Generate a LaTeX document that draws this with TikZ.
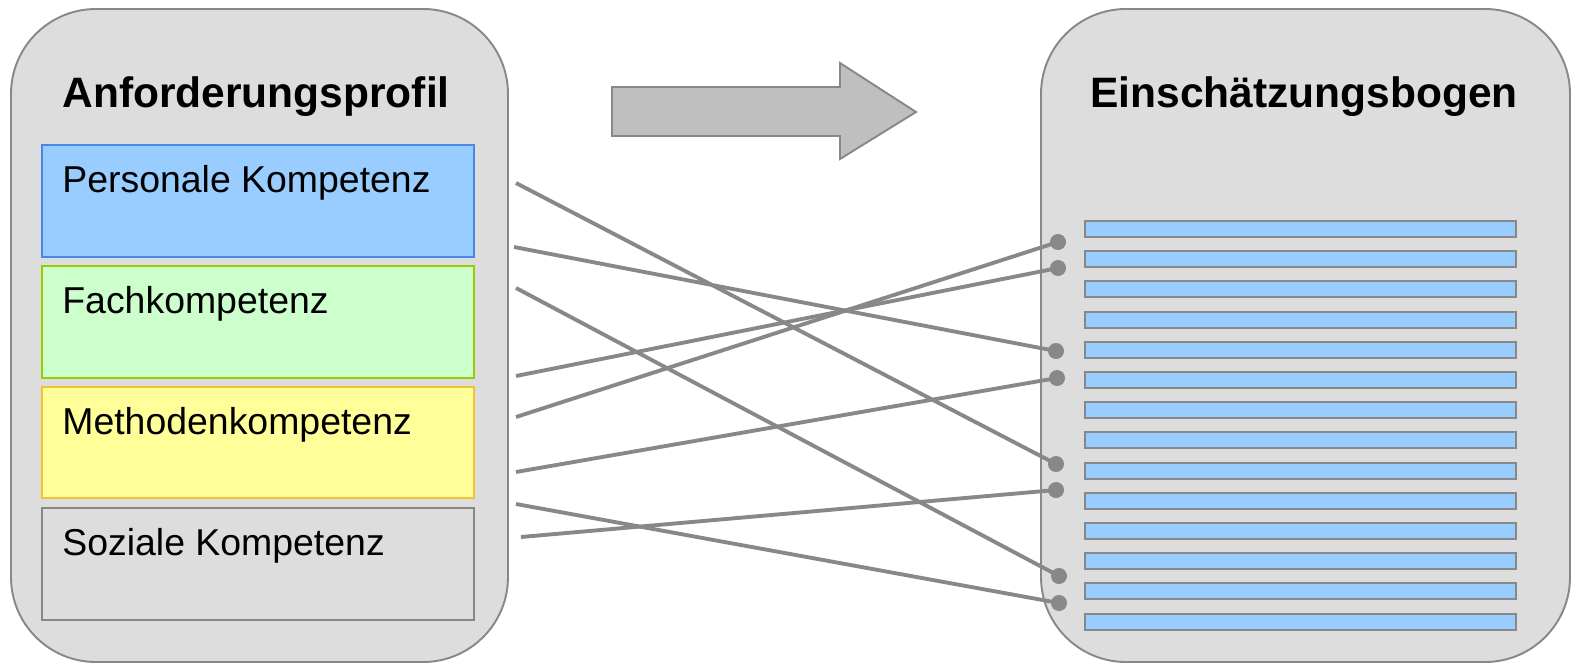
\documentclass[tikz,border=0pt]{standalone}
\usepackage{fontspec}
\setmainfont{Liberation Sans}
\definecolor{panelgray}{HTML}{DDDDDD}
\definecolor{edgegray}{HTML}{888888}
\definecolor{persblue}{HTML}{99CCFF}
\definecolor{persedge}{HTML}{4A86E8}
\definecolor{fachgreen}{HTML}{CCFFCC}
\definecolor{fachedge}{HTML}{99CC00}
\definecolor{methyellow}{HTML}{FFFF99}
\definecolor{methedge}{HTML}{F1C232}
\definecolor{arrowgray}{HTML}{BFBFBF}
\begin{document}
\begin{tikzpicture}[x=0.02cm, y=-0.02cm,
	panel/.style={draw=edgegray, fill=panelgray, line width=1.1pt, rounded corners=1.7cm},
	kbox/.style={line width=1.1pt},
	bar/.style={draw=edgegray, fill=persblue, line width=1.1pt},
	title/.style={anchor=base west, inner sep=0pt, font=\fontsize{24.2}{28}\selectfont\bfseries},
	label/.style={anchor=base west, inner sep=0pt, font=\fontsize{21.3}{25}\selectfont},
	link/.style={draw=edgegray, line width=2.2pt},
	dot/.style={circle, fill=edgegray, inner sep=0pt, minimum size=0.32cm}]
	\useasboundingbox (0,0) rectangle (1571,663);

	%% Anforderungsprofil
	\draw[panel] (11,9) rectangle (508,662);
	\node[title] (anf) at (62,107) {Anforderungsprofil};

	\draw[kbox, draw=persedge, fill=persblue] (42,145) rectangle (474,257);
	\node[label] (pers) at (62,192) {Personale Kompetenz};
	\draw[kbox, draw=fachedge, fill=fachgreen] (42,266) rectangle (474,378);
	\node[label] (fach) at (62,313) {Fachkompetenz};
	\draw[kbox, draw=methedge, fill=methyellow] (42,387) rectangle (474,498);
	\node[label] (meth) at (62,434) {Methodenkompetenz};
	\draw[kbox, draw=edgegray, fill=panelgray] (42,508) rectangle (474,620);
	\node[label] (soz) at (62,555) {Soziale Kompetenz};

	%%%%%%%%%%%%%%%%

	%% Pfeil
	\draw[draw=edgegray, fill=arrowgray, line width=1.1pt]
		(612,87) -- (840,87) -- (840,63) -- (916,112) -- (840,159) -- (840,136) -- (612,136) -- cycle;

	%% Einschaetzungsbogen
	\draw[panel] (1041,9) rectangle (1570,662);
	\node[title] (ein) at (1090,107) {Einschätzungsbogen};
	\foreach \i in {0,...,13}
		\draw[bar] (1085,{221+30.2*\i}) rectangle +(431,16);

	%%%%%%%%%%%%%%%%

	%% Zuordnung
	\coordinate (s1) at (516,183);
	\coordinate (s2) at (514,247);
	\coordinate (s3) at (516,288);
	\coordinate (s4) at (516,376);
	\coordinate (s5) at (516,417);
	\coordinate (s6) at (516,472);
	\coordinate (s7) at (516,504);
	\coordinate (s8) at (521,537);

	\node[dot] (d1) at (1058,242) {};
	\node[dot] (d2) at (1058,268) {};
	\node[dot] (d3) at (1056,351) {};
	\node[dot] (d4) at (1057,378) {};
	\node[dot] (d5) at (1056,464) {};
	\node[dot] (d6) at (1056,490) {};
	\node[dot] (d7) at (1059,576) {};
	\node[dot] (d8) at (1059,603) {};

	\draw[link] (s1) -- (d5.center);
	\draw[link] (s2) -- (d3.center);
	\draw[link] (s3) -- (d7.center);
	\draw[link] (s4) -- (d2.center);
	\draw[link] (s5) -- (d1.center);
	\draw[link] (s6) -- (d4.center);
	\draw[link] (s7) -- (d8.center);
	\draw[link] (s8) -- (d6.center);

%\draw (current bounding box.south west) rectangle (current bounding box.north east);
\end{tikzpicture}
\end{document}
